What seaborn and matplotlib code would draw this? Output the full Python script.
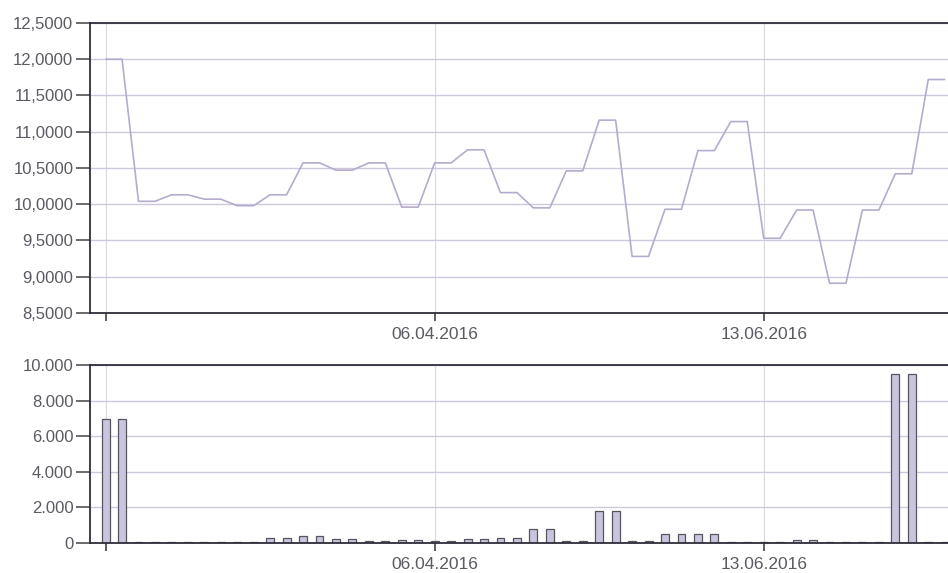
import matplotlib
matplotlib.use("Agg")
import matplotlib.pyplot as plt
import seaborn as sns
import pandas as pd

# values (52 points, in equal pairs)
price = [12.00, 12.00, 10.04, 10.04, 10.13, 10.13, 10.07, 10.07, 9.98, 9.98,
         10.13, 10.13, 10.57, 10.57, 10.47, 10.47, 10.57, 10.57, 9.96, 9.96,
         10.57, 10.57, 10.75, 10.75, 10.16, 10.16, 9.95, 9.95, 10.46, 10.46,
         11.16, 11.16, 9.28, 9.28, 9.93, 9.93, 10.74, 10.74, 11.14, 11.14,
         9.53, 9.53, 9.92, 9.92, 8.91, 8.91, 9.92, 9.92, 10.42, 10.42,
         11.72, 11.72]
volume = [6950, 6950, 80, 80, 80, 80, 80, 80, 80, 80,
          260, 260, 370, 370, 230, 230, 90, 90, 150, 150,
          90, 90, 250, 250, 280, 280, 800, 800, 90, 90,
          1810, 1810, 90, 90, 520, 520, 520, 520, 80, 80,
          80, 80, 170, 170, 80, 80, 80, 80, 9500, 9500,
          80, 80]
tick_idx = [0, 20, 40]
tick_labels = ["", "06.04.2016", "13.06.2016"]

df = pd.DataFrame({"idx": range(len(price)), "price": price, "volume": volume})

sns.set_style("white")
plt.rcParams["font.family"] = ["Liberation Sans", "DejaVu Sans"]

line_color = "#b5abcd"
grid_color = "#cdc8de"
spine_color = "#2e2e3a"
label_color = "#5a5a62"

fig = plt.figure(figsize=(9.48, 5.73), dpi=100)
ax1 = fig.add_axes([0.0949, 0.4538, 0.9051, 0.5061])
ax2 = fig.add_axes([0.0949, 0.0524, 0.9051, 0.3106])

xmin, xmax = -0.95, 51.2

# price line
sns.lineplot(data=df, x="idx", y="price", ax=ax1, color=line_color, linewidth=1.2)
ax1.set_xlim(xmin, xmax)
ax1.set_ylim(8.5, 12.5)
yt1 = [8.5 + 0.5 * i for i in range(9)]
ax1.set_yticks(yt1)
ax1.set_yticklabels([f"{v:.4f}".replace(".", ",") for v in yt1])

# volume bars
sns.barplot(data=df, x="idx", y="volume", ax=ax2, color="#cbc4de", width=0.48,
            edgecolor="#55555e", linewidth=0.9, saturation=1)
ax2.set_xlim(xmin, xmax)
ax2.set_ylim(0, 10000)
yt2 = [0, 2000, 4000, 6000, 8000, 10000]
ax2.set_yticks(yt2)
ax2.set_yticklabels([f"{v:,}".replace(",", ".") for v in yt2])

for ax in (ax1, ax2):
    ax.set_xticks(tick_idx)
    ax.set_xticklabels(tick_labels)
    ax.set_xlabel("")
    ax.set_ylabel("")
    ax.grid(axis="y", color=grid_color, linewidth=1.0)
    ax.grid(axis="x", color="#d8d8de", linewidth=0.8)
    ax.set_axisbelow(True)
    for s in ("left", "bottom", "top"):
        ax.spines[s].set_visible(True)
        ax.spines[s].set_color(spine_color)
        ax.spines[s].set_linewidth(1.3)
    ax.spines["right"].set_visible(False)
    ax.tick_params(axis="y", direction="out", length=10, width=1.1, pad=2,
                   color="#444", labelsize=12, labelcolor=label_color, left=True)
    ax.tick_params(axis="x", direction="out", length=6, width=1.1, pad=4,
                   color="#333", labelsize=12.5, labelcolor=label_color, bottom=True)

fig.savefig("out.png", dpi=100)
